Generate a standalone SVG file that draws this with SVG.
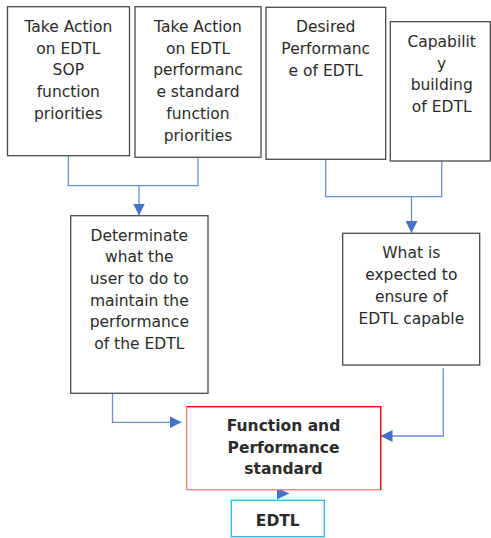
<svg xmlns="http://www.w3.org/2000/svg" width="491" height="538" viewBox="0 0 491 538">
<style>
.box{fill:#fff;stroke:#4a4a4a;stroke-width:1.3}
.t{font-family:"DejaVu Sans",Verdana,sans-serif;font-size:15.5px;fill:#2b2b2b;text-anchor:middle}
.b{font-weight:bold}
.c{fill:none;stroke:#6a8fd6;stroke-width:1.3}
</style>
<defs>
<marker id="ah" viewBox="0 0 12 12" refX="12" refY="6" markerWidth="12" markerHeight="12" markerUnits="userSpaceOnUse" orient="auto">
<path d="M0,0 L12,6 L0,12 z" fill="#4472c4"/>
</marker>
</defs>
<rect width="491" height="538" fill="#fff"/>
<g id="connectors">
<path class="c" d="M68.3,155.7 V185.7 H198 V157.3"/>
<path class="c" d="M139,185.7 V215.5" marker-end="url(#ah)"/>
<path class="c" d="M325.7,159.3 V196.7 H441.7 V161"/>
<path class="c" d="M411.5,196.7 V233" marker-end="url(#ah)"/>
<path class="c" d="M112.5,360 V422.3 H181.5" marker-end="url(#ah)"/>
<path class="c" d="M443.3,368.3 V436 H380.5" marker-end="url(#ah)"/>
<path class="c" d="M277.5,493.5 H289" marker-end="url(#ah)"/>
</g>
<g id="n1">
<rect class="box" x="7.5" y="6.7" width="122" height="149"/>
<text class="t" x="68.3" y="31.7">Take Action<tspan x="68.3" dy="21.8">on EDTL</tspan><tspan x="68.3" dy="21.8">SOP</tspan><tspan x="68.3" dy="21.8">function</tspan><tspan x="68.3" dy="21.8">priorities</tspan></text>
</g>
<g id="n2">
<rect class="box" x="135" y="6.7" width="126" height="150.6"/>
<text class="t" x="198" y="31.7">Take Action<tspan x="198" dy="21.8">on EDTL</tspan><tspan x="198" dy="21.8">performanc</tspan><tspan x="198" dy="21.8">e standard</tspan><tspan x="198" dy="21.8">function</tspan><tspan x="198" dy="21.8">priorities</tspan></text>
</g>
<g id="n3">
<rect class="box" x="266" y="7.3" width="119.7" height="152"/>
<text class="t" x="325.7" y="32.4">Desired<tspan x="325.7" dy="21.8">Performanc</tspan><tspan x="325.7" dy="21.8">e of EDTL</tspan></text>
</g>
<g id="n4">
<rect class="box" x="390.3" y="21.7" width="100" height="139.3"/>
<text class="t" x="441.7" y="46.7">Capabilit<tspan x="441.7" dy="21.8">y</tspan><tspan x="441.7" dy="21.8">building</tspan><tspan x="441.7" dy="21.8">of EDTL</tspan></text>
</g>
<g id="n5">
<rect class="box" x="70.7" y="215.7" width="137.3" height="177.6"/>
<text class="t" x="139.3" y="240.7">Determinate<tspan x="139.3" dy="21.6">what the</tspan><tspan x="139.3" dy="21.6">user to do to</tspan><tspan x="139.3" dy="21.6">maintain the</tspan><tspan x="139.3" dy="21.6">performance</tspan><tspan x="139.3" dy="21.6">of the EDTL</tspan></text>
</g>
<g id="n6">
<rect class="box" x="342.7" y="233.3" width="137" height="131.7"/>
<text class="t" x="411.3" y="258.4">What is<tspan x="411.3" dy="21.8">expected to</tspan><tspan x="411.3" dy="21.8">ensure of</tspan><tspan x="411.3" dy="21.8">EDTL capable</tspan></text>
</g>
<g id="n7">
<rect x="186.7" y="406.7" width="194" height="83" fill="#fff" stroke="#f47a7a" stroke-width="1.3"/>
<path d="M186.7,406.7 H380.7 V489.7" fill="none" stroke="#f00" stroke-width="1.3"/>
<text class="t b" x="283.5" y="431.4">Function and<tspan x="283.5" dy="21.3">Performance</tspan><tspan x="283.5" dy="21.3">standard</tspan></text>
</g>
<g id="n8">
<rect x="231.3" y="500.3" width="93" height="36.4" fill="#fff" stroke="#2cb5ec" stroke-width="1.3"/>
<text class="t b" x="277.8" y="525.7">EDTL</text>
</g>
</svg>
